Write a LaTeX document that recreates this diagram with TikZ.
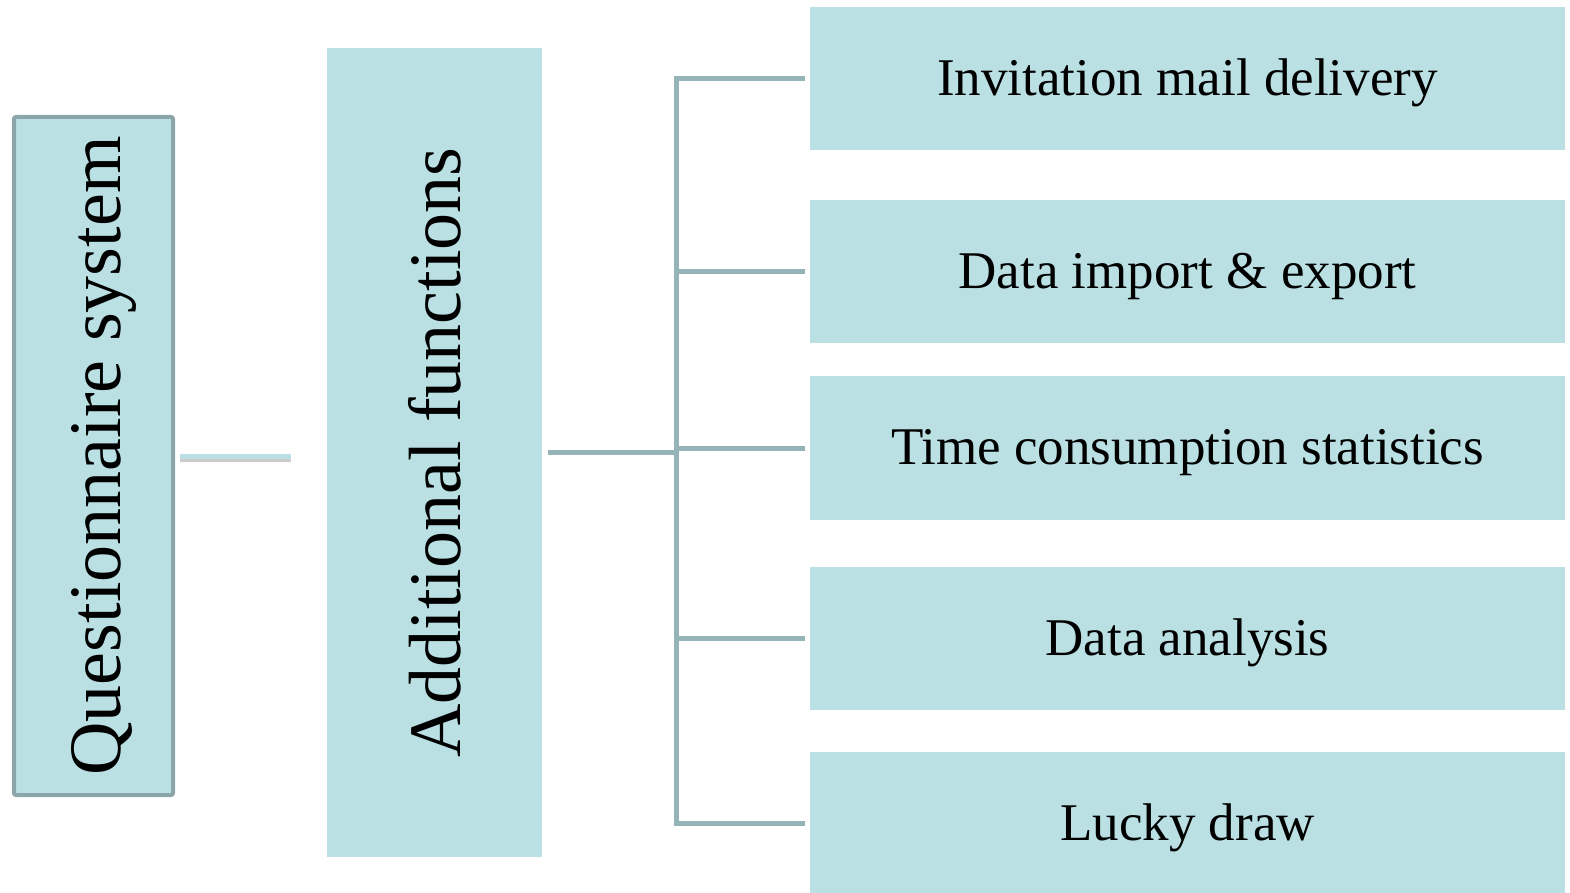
\documentclass[tikz,border=0pt]{standalone}
\usepackage{fontspec}
\setmainfont{Liberation Serif}
\usepackage{xcolor}
\usepackage{tikz}

\definecolor{boxfill}{HTML}{BAE0E3}
\definecolor{boxline}{HTML}{8BA5A8}
\definecolor{linkcol}{HTML}{95B4B8}

\begin{document}
\begin{tikzpicture}[x=0.5pt,y=-0.5pt]
	\tikzset{
		topbox/.style={fill=boxfill,draw=boxline,line width=2pt,rounded corners=1pt,rotate=90,inner sep=0pt,
			minimum width=339pt,minimum height=79.5pt,text height=36.5pt,text depth=10pt,
			font=\fontsize{37}{40}\selectfont},
		midbox/.style={fill=boxfill,rotate=90,inner sep=0pt,
			minimum width=404.5pt,minimum height=107.5pt,font=\fontsize{37}{40}\selectfont},
		itembox/.style={fill=boxfill,inner sep=0pt,
			minimum width=377.5pt,minimum height=71.5pt,text height=23pt,text depth=6pt,
			font=\fontsize{26.5}{30}\selectfont},
		link/.style={draw=linkcol,line width=2.5pt}
	}
	\useasboundingbox (0,0) rectangle (1570,893);

	% Define the boxes
	\node[topbox] (qs) at (93.5,456) {Questionnaire system};
	\node[midbox] (af) at (434.5,452.5) {Additional functions};
	\node[itembox] (inv) at (1187.5,78.5) {Invitation mail delivery};
	\node[itembox] (imp) at (1187.5,271.5) {Data import \& export};
	\node[itembox] (tim) at (1187.5,448) {Time consumption statistics};
	\node[itembox] (ana) at (1187.5,638.5) {Data analysis};
	\node[itembox] (luck) at (1187.5,823.5) {Lucky draw};

	\coordinate (spine) at (676,453);

	% Draw the link between the two left boxes
	\draw[black!40,opacity=0.5,line width=3pt,shorten <=2.5pt,shorten >=18pt,transform canvas={yshift=-1.5pt}] (qs.south) -- (qs.south -| af.north);
	\draw[boxfill,line width=2.5pt,shorten <=2.5pt,shorten >=18pt] (qs.south) -- (qs.south -| af.north);

	% Draw the bracket
	\draw[link,shorten <=3pt] (af.south) -- (spine |- af.south);
	\draw[link,shorten <=2.5pt,shorten >=2.5pt] (inv.west) -- (spine |- inv.west) -- (spine |- luck.west) -- (luck.west);
	\draw[link,shorten >=2.5pt] (spine |- imp.west) -- (imp.west);
	\draw[link,shorten >=2.5pt] (spine |- tim.west) -- (tim.west);
	\draw[link,shorten >=2.5pt] (spine |- ana.west) -- (ana.west);
\end{tikzpicture}
\end{document}
